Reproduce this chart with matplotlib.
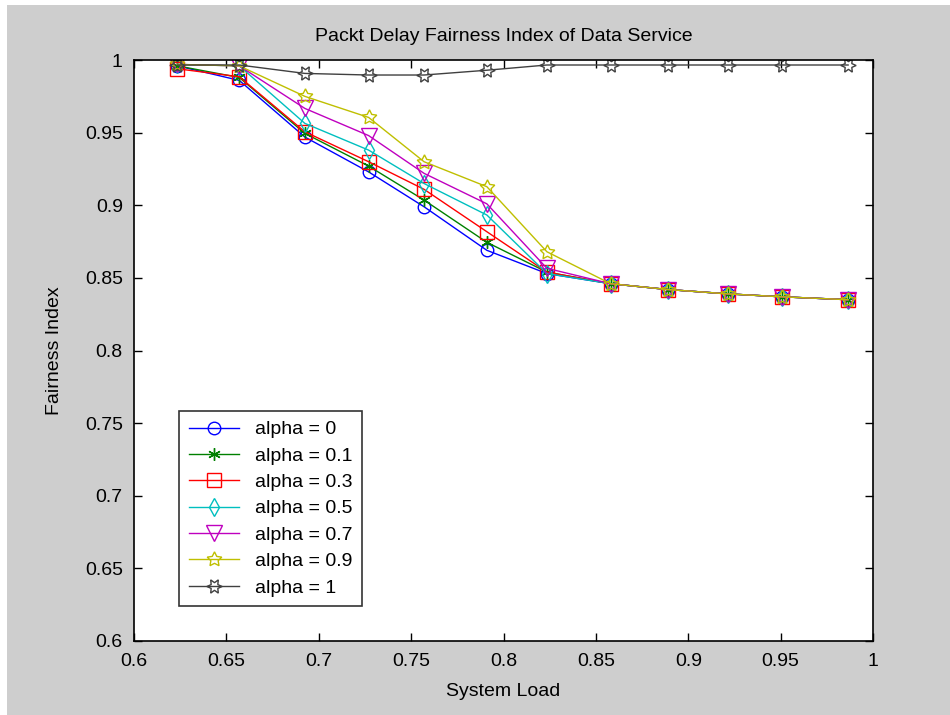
import numpy as np
import matplotlib.pyplot as plt

# system load values (x axis)
load = [0.6235, 0.657, 0.6925, 0.727, 0.757, 0.791, 0.8235, 0.858, 0.889, 0.9215, 0.9505, 0.9865]

# fairness index per alpha
a0  = [0.996, 0.986, 0.947, 0.923, 0.899, 0.869, 0.853, 0.846, 0.842, 0.839, 0.837, 0.835]
a01 = [0.996, 0.988, 0.9495, 0.927, 0.9036, 0.8745, 0.854, 0.846, 0.842, 0.839, 0.837, 0.835]
a03 = [0.994, 0.9885, 0.9506, 0.930, 0.911, 0.8818, 0.854, 0.846, 0.842, 0.839, 0.837, 0.835]
a05 = [0.997, 0.996, 0.9564, 0.938, 0.915, 0.8933, 0.853, 0.846, 0.842, 0.839, 0.837, 0.835]
a07 = [0.997, 0.996, 0.9667, 0.948, 0.922, 0.901, 0.8566, 0.846, 0.842, 0.839, 0.837, 0.835]
a09 = [0.997, 0.996, 0.975, 0.9605, 0.930, 0.9128, 0.868, 0.846, 0.842, 0.839, 0.837, 0.835]
a1  = [0.9966, 0.9966, 0.9908, 0.9897, 0.9897, 0.993, 0.9966, 0.9966, 0.9966, 0.9966, 0.9966, 0.9966]

series = [a0, a01, a03, a05, a07, a09, a1]
labels = ['alpha = 0', 'alpha = 0.1', 'alpha = 0.3', 'alpha = 0.5',
          'alpha = 0.7', 'alpha = 0.9', 'alpha = 1']
colors = ['#0000ff', '#008000', '#ff0000', '#00bfbf', '#bf00bf', '#bfbf00', '#404040']
markers = ['o', (6, 2, 0), 's', 'd', 'v', (5, 1, 0), (6, 1, 90)]
msizes = [9, 9, 10, 9, 11, 11, 11]
ticklabels = ['0.6', '0.65', '0.7', '0.75', '0.8', '0.85', '0.9', '0.95', '1']

plt.rcParams['font.family'] = ['Liberation Sans', 'DejaVu Sans']

fig = plt.figure(figsize=(9.5, 7.15), dpi=100, facecolor='#cecece')
# thin white border along top and left edges, as in the screenshot
fig.add_artist(plt.Rectangle((0, 1 - 5 / 715), 1, 5 / 715, transform=fig.transFigure,
                             facecolor='white', edgecolor='none'))
fig.add_artist(plt.Rectangle((0, 0), 7 / 950, 1, transform=fig.transFigure,
                             facecolor='white', edgecolor='none'))

ax = fig.add_axes([0.141, 0.1035, 0.778, 0.8125])

for y, lab, c, m, ms in zip(series, labels, colors, markers, msizes):
    ax.plot(load, y, color=c, marker=m, markersize=ms, markerfacecolor='none',
            markeredgecolor=c, markeredgewidth=1.0, linewidth=1.0, label=lab)

ax.set_xlim(0.6, 1)
ax.set_ylim(0.6, 1)
ax.set_xticks(np.arange(0.6, 1.001, 0.05))
ax.set_yticks(np.arange(0.6, 1.001, 0.05))
ax.set_xticklabels(ticklabels)
ax.set_yticklabels(ticklabels)
ax.tick_params(direction='in', top=True, right=True, labelsize=14, length=6, width=1)
ax.tick_params(axis='x', pad=9)
ax.tick_params(axis='y', pad=8)
for s in ax.spines.values():
    s.set_linewidth(1.2)

ax.set_xlabel('System Load', fontsize=14, labelpad=9)
ax.set_ylabel('Fairness Index', fontsize=14, labelpad=16)
ax.set_title('Packt Delay Fairness Index of Data Service', fontsize=14, pad=14)

leg = ax.legend(loc='lower left', bbox_to_anchor=(0.048, 0.043), fontsize=14,
                frameon=True, fancybox=False, edgecolor='black',
                handlelength=2.6, borderpad=0.5, labelspacing=0.45, handletextpad=0.8)
leg.get_frame().set_linewidth(1.2)

fig.savefig('out.png', dpi=100, facecolor=fig.get_facecolor())
